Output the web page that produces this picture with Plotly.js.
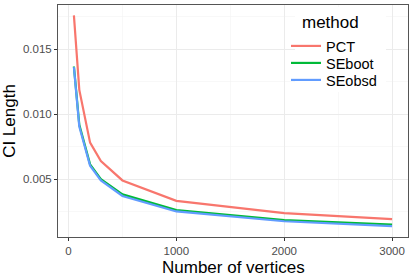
<!DOCTYPE html>
<html>
<head>
<meta charset="utf-8">
<script src="https://cdn.plot.ly/plotly-3.0.1.min.js"></script>
<style>html,body{margin:0;padding:0;background:#fff;}#chart{width:415px;height:277px;}</style>
</head>
<body>
<div id="chart"></div>
<script>
const vertices = [50, 100, 200, 300, 500, 1000, 2000, 3000];
const pct    = [0.01758, 0.01187, 0.00782, 0.00641, 0.00492, 0.00335, 0.00241, 0.00195];
const seboot = [0.01366, 0.00918, 0.00615, 0.00502, 0.00385, 0.00264, 0.00187, 0.00154];
const seobsd = [0.01362, 0.00905, 0.00605, 0.00492, 0.00373, 0.00254, 0.00179, 0.00141];
const methods = ["PCT", "SEboot", "SEobsd"];
const colors = ["#F8766D", "#00BA38", "#619CFF"];
const series = [pct, seboot, seobsd];
const yTicks = [0.005, 0.010, 0.015];
const yTickText = ["0.005", "0.010", "0.015"];
const xTicks = [0, 1000, 2000, 3000];
const xTickText = ["0", "1000", "2000", "3000"];
const legendTitle = "method";
const xTitle = "Number of vertices";
const yTitle = "CI Length";

const FONT = "Liberation Sans, Arial, Helvetica, sans-serif";
const W = 415, H = 277, ML = 58, MR = 7, MT = 5, MB = 40;
const PW = W - ML - MR, PH = H - MT - MB;
const px2x = p => (p - ML) / PW;
const px2y = p => 1 - (p - MT) / PH;

const legendNames = ["legend", "legend2", "legend3"];
const legendRows = [46, 63, 80];

const traces = methods.map((m, i) => ({
  x: vertices, y: series[i], name: m, type: "scatter", mode: "lines",
  line: {color: colors[i], width: 2.2},
  legend: legendNames[i]
}));

const layout = {
  width: W, height: H,
  margin: {l: ML, r: MR, t: MT, b: MB},
  paper_bgcolor: "#fff", plot_bgcolor: "#fff",
  font: {family: FONT, color: "#000"},
  xaxis: {
    range: [-97.5, 3147.5],
    tickvals: xTicks, ticktext: xTickText,
    tickfont: {size: 11.5, color: "#4D4D4D"},
    ticks: "outside", ticklen: 3, tickcolor: "#333", tickwidth: 1,
    showgrid: true, gridcolor: "#EBEBEB", gridwidth: 1,
    minor: {tickvals: [500, 1500, 2500], showgrid: true, gridcolor: "#F3F3F3", gridwidth: 0.6, ticks: ""},
    zeroline: false, showline: true, mirror: true, linecolor: "#555", linewidth: 1
  },
  yaxis: {
    range: [0.00058, 0.01838],
    tickvals: yTicks, ticktext: yTickText,
    tickfont: {size: 11.5, color: "#4D4D4D"},
    ticks: "outside", ticklen: 3, tickcolor: "#333", tickwidth: 1,
    showgrid: true, gridcolor: "#EBEBEB", gridwidth: 1,
    minor: {tickvals: [0.0025, 0.0075, 0.0125, 0.0175], showgrid: true, gridcolor: "#F3F3F3", gridwidth: 0.6, ticks: ""},
    zeroline: false, showline: true, mirror: true, linecolor: "#555", linewidth: 1,
    title: {text: yTitle, font: {size: 17, color: "#000"}, standoff: 5}
  },
  showlegend: true,
  shapes: [{
    type: "rect", xref: "paper", yref: "paper", layer: "above",
    x0: px2x(295), x1: px2x(386), y0: px2y(92), y1: px2y(7),
    fillcolor: "#fff", line: {width: 0}
  }],
  annotations: [{
    text: legendTitle, xref: "paper", yref: "paper",
    x: px2x(300), y: px2y(22), xanchor: "left", yanchor: "middle",
    showarrow: false, font: {size: 17, color: "#000", weight: "normal"}
  }, {
    text: xTitle, xref: "paper", yref: "paper",
    x: 0.5, y: px2y(257), xanchor: "center", yanchor: "top",
    showarrow: false, borderpad: 0, font: {size: 17, color: "#000"}
  }]
};

legendNames.forEach((ln, i) => {
  layout[ln] = {
    x: px2x(286), xanchor: "left",
    y: px2y(legendRows[i]), yanchor: "middle",
    bgcolor: "rgba(0,0,0,0)", borderwidth: 0,
    font: {size: 14.5, color: "#000"},
    itemwidth: 30
  };
});

Plotly.newPlot("chart", traces, layout, {displayModeBar: false, staticPlot: true});
</script>
</body>
</html>
